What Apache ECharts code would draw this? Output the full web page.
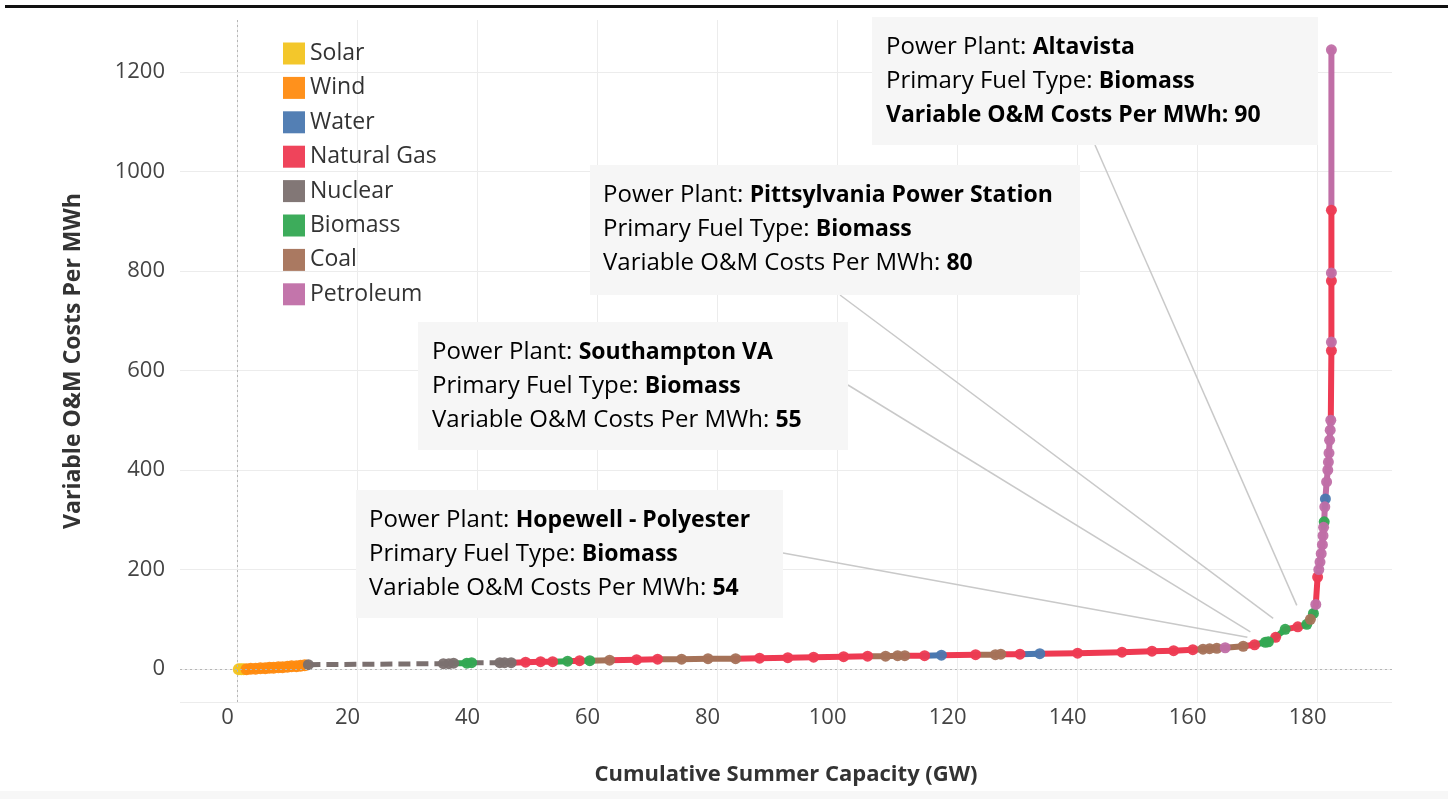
<!DOCTYPE html>
<html><head><meta charset="utf-8">
<script src="https://cdn.jsdelivr.net/npm/echarts@6/dist/echarts.min.js"></script>
<style>html,body{margin:0;padding:0;background:#fff;}#chart{width:1448px;height:799px;}</style>
</head><body><div id="chart"></div>
<script>
// ---------- data ----------
const fuelNames  = ['Solar','Wind','Water','Natural Gas','Nuclear','Biomass','Coal','Petroleum'];
const fuelColors = ['#f2c420','#ff8b10','#4a78b0','#ee3a52','#7b706f','#33a852','#a57258','#c06ea6'];

const capacityGW = [
  0.2,0.6,1.0,1.5,2.2,3.0,3.8,4.6,5.3,6.0,6.8,7.5,8.3,9.0,9.8,10.5,11.2,11.8,
  34.3,35.2,36.0,38.2,39.0,43.7,44.5,45.6,48.0,50.5,52.5,55.0,57.0,58.7,62.0,66.5,70.0,
  74.0,78.4,83.0,87.0,91.7,96.0,101.0,105.0,108.0,110.0,111.2,114.5,117.3,123.0,126.3,127.2,
  130.4,133.7,140.0,147.4,152.4,156.0,159.2,160.9,162.0,163.2,164.6,167.6,169.5,171.3,171.8,
  173.0,174.6,176.7,178.2,178.8,179.3,179.7,180.0,180.2,180.4,180.6,180.8,180.9,181.0,181.1,
  181.2,181.3,181.5,181.7,181.8,181.9,182.0,182.1,182.2,182.3,182.3,182.3,182.3,182.3,182.3
];
const costPerMWh = [
  0,0,0,0,1,1,2,2,3,3,4,4,5,6,6,7,8,9,
  11,11,12,12,13,13,13,13,14,15,15,16,17,17,18,19,20,
  20,21,21,22,23,24,25,26,26,27,27,27,28,29,29,30,
  30,31,32,34,36,37,39,40,41,42,43,46,49,54,55,
  64,80,85,90,100,112,130,185,200,215,232,250,268,285,296,
  326,342,376,400,416,434,460,480,500,640,657,780,796,922,1244
];
const fuelType = [
  'Solar','Solar','Solar','Wind','Wind','Wind','Wind','Wind','Wind','Wind','Wind','Wind','Wind','Wind','Wind','Wind','Wind','Nuclear',
  'Nuclear','Nuclear','Nuclear','Biomass','Biomass','Nuclear','Nuclear','Nuclear','Natural Gas','Natural Gas','Natural Gas','Biomass','Natural Gas','Biomass','Coal','Natural Gas','Natural Gas',
  'Coal','Coal','Coal','Natural Gas','Natural Gas','Natural Gas','Natural Gas','Natural Gas','Coal','Coal','Coal','Natural Gas','Water','Natural Gas','Coal','Coal',
  'Natural Gas','Water','Natural Gas','Natural Gas','Natural Gas','Natural Gas','Natural Gas','Coal','Coal','Coal','Petroleum','Coal','Natural Gas','Biomass','Biomass',
  'Natural Gas','Biomass','Natural Gas','Biomass','Coal','Biomass','Petroleum','Natural Gas','Petroleum','Petroleum','Petroleum','Petroleum','Petroleum','Petroleum','Biomass',
  'Petroleum','Water','Petroleum','Petroleum','Petroleum','Petroleum','Petroleum','Petroleum','Petroleum','Natural Gas','Petroleum','Natural Gas','Petroleum','Natural Gas','Petroleum'
];

const xTickValues = [0,20,40,60,80,100,120,140,160,180];
const yTickValues = [0,200,400,600,800,1000,1200];

// annotated plants (tooltips)
const notePlants   = ['Altavista','Pittsylvania Power Station','Southampton VA','Hopewell - Polyester'];
const noteFuel     = ['Biomass','Biomass','Biomass','Biomass'];
const noteCapacity = [178.2,174.6,171.8,171.3];
const noteCost     = [90,80,55,54];

// ---------- layout / style (not data) ----------
const FONT = "'Open Sans', 'Noto Sans', sans-serif";
const noteLayout = [
  {box:[872,17,446,128], text:[886,30], from:[1095,145], endOff:[-10,-19], allBold:true},
  {box:[590,165,490,130], text:[603,178], from:[840,295], endOff:[-12,-11]},
  {box:[418,322,430,128], text:[432,335], from:[848,385], endOff:[-18,-10]},
  {box:[356,490,427,128], text:[369,503], from:[783,553], endOff:[-18,-5]}
];

const chart = echarts.init(document.getElementById('chart'), null, {renderer:'canvas'});

const segData = [];
for (let i = 1; i < capacityGW.length; i++) {
  segData.push([capacityGW[i-1], costPerMWh[i-1], capacityGW[i], costPerMWh[i], fuelNames.indexOf(fuelType[i])]);
}

function renderSeg(params, api) {
  const a = api.coord([api.value(0), api.value(1)]);
  const b = api.coord([api.value(2), api.value(3)]);
  const f = api.value(4);
  const nuclear = fuelNames[f] === 'Nuclear';
  return {
    type: 'line',
    shape: {x1:a[0], y1:a[1], x2:b[0], y2:b[1]},
    style: {stroke: fuelColors[f], lineWidth: nuclear ? 5 : 6, lineDash: nuclear ? [12,6] : null, lineCap: nuclear ? 'butt' : 'round'}
  };
}

const scatterSeries = fuelNames.map((name, k) => {
  const pts = [];
  for (let i = 0; i < capacityGW.length; i++) if (fuelType[i] === name) pts.push([capacityGW[i], costPerMWh[i]]);
  const s = {
    name: name, type: 'scatter', data: pts, symbolSize: name === 'Wind' || name === 'Solar' ? 12 : 11, z: 4,
    itemStyle: {color: fuelColors[k], opacity: 0.95}, emphasis: {disabled: true}, silent: true
  };
  if (k === 0) {
    s.markLine = {
      silent: true, symbol: 'none', label: {show: false},
      lineStyle: {color: '#b5b5b5', type: [2,3], width: 1},
      data: [{xAxis: 0}, {yAxis: 0}]
    };
  }
  return s;
});

const option = {
  backgroundColor: '#fff',
  animation: false,
  textStyle: {fontFamily: FONT},
  grid: {left: 180, right: 56, top: 20, bottom: 97, containLabel: false, outerBoundsMode: 'none'},
  legend: {
    data: fuelNames, orient: 'vertical', left: 278, top: 37,
    itemWidth: 22, itemHeight: 22, itemGap: 11.4, icon: 'rect',
    textStyle: {fontSize: 23, lineHeight: 22, color: '#333', fontFamily: FONT, padding: [0,0,0,0]},
    selectedMode: false
  },
  xAxis: {
    type: 'value', min: -9.6, max: 192.4, minInterval: 20, maxInterval: 20,
    name: 'Cumulative Summer Capacity (GW)', nameLocation: 'middle', nameGap: 62,
    nameTextStyle: {fontSize: 22, fontWeight: 'bold', color: '#333', fontFamily: FONT},
    axisLine: {show: false}, axisTick: {show: false},
    axisLabel: {
      fontSize: 22, color: '#444', margin: 5, padding: [0,20,0,0], fontFamily: FONT,
      showMinLabel: false, showMaxLabel: false,
      formatter: v => xTickValues.indexOf(v) >= 0 ? String(v) : ''
    },
    splitLine: {show: true, showMinLine: false, showMaxLine: false, lineStyle: {color: '#ececec', width: 1}}
  },
  yAxis: {
    type: 'value', min: -66, max: 1304, minInterval: 200, maxInterval: 200,
    name: 'Variable O&M Costs Per MWh', nameLocation: 'middle', nameGap: 95, nameRotate: 90,
    nameTextStyle: {fontSize: 23, fontWeight: 'bold', color: '#333', fontFamily: FONT},
    axisLine: {show: false}, axisTick: {show: false},
    axisLabel: {
      fontSize: 22, color: '#444', margin: 15, fontFamily: FONT,
      showMinLabel: false, showMaxLabel: false,
      formatter: v => yTickValues.indexOf(v) >= 0 ? String(v) : ''
    },
    splitLine: {show: true, showMinLine: true, showMaxLine: false, lineStyle: {color: '#ececec', width: 1}}
  },
  series: [
    {type: 'custom', name: 'segments', renderItem: renderSeg, data: segData,
     encode: {x: [0,2], y: [1,3]}, clip: true, z: 3, silent: true}
  ].concat(scatterSeries)
};
chart.setOption(option);

// annotations: boxes, text and leader lines anchored to data points
const graphics = [
  {type: 'rect', shape: {x: 5, y: 5, width: 1443, height: 3}, style: {fill: '#111'}, z: 100},
  {type: 'rect', shape: {x: 0, y: 791, width: 1448, height: 8}, style: {fill: '#f7f7f7'}, z: 100}
];
notePlants.forEach((plant, i) => {
  const L = noteLayout[i];
  const p = chart.convertToPixel({gridIndex: 0}, [noteCapacity[i], noteCost[i]]);
  const end = [p[0] + L.endOff[0], p[1] + L.endOff[1]];
  graphics.push({type: 'line', shape: {x1: L.from[0], y1: L.from[1], x2: end[0], y2: end[1]},
    style: {stroke: '#c9c9c9', lineWidth: 1.5}, z: 90});
  graphics.push({type: 'rect', shape: {x: L.box[0], y: L.box[1], width: L.box[2], height: L.box[3]},
    style: {fill: '#f6f6f6'}, z: 91});
  const line3 = L.allBold ? '{b|Variable O&M Costs Per MWh: ' + noteCost[i] + '}'
                          : '{n|Variable O&M Costs Per MWh: }{b|' + noteCost[i] + '}';
  graphics.push({type: 'text', x: L.text[0], y: L.text[1], z: 92,
    style: {
      text: '{n|Power Plant: }{b|' + plant + '}\n{n|Primary Fuel Type: }{b|' + noteFuel[i] + '}\n' + line3,
      verticalAlign: 'top', align: 'left',
      rich: {
        n: {fontSize: 24, fontFamily: FONT, color: '#444', lineHeight: 34},
        b: {fontSize: 23, fontFamily: FONT, color: '#222', fontWeight: 'bold', lineHeight: 34}
      }
    }});
});
chart.setOption({graphic: graphics});
</script>
</body></html>
